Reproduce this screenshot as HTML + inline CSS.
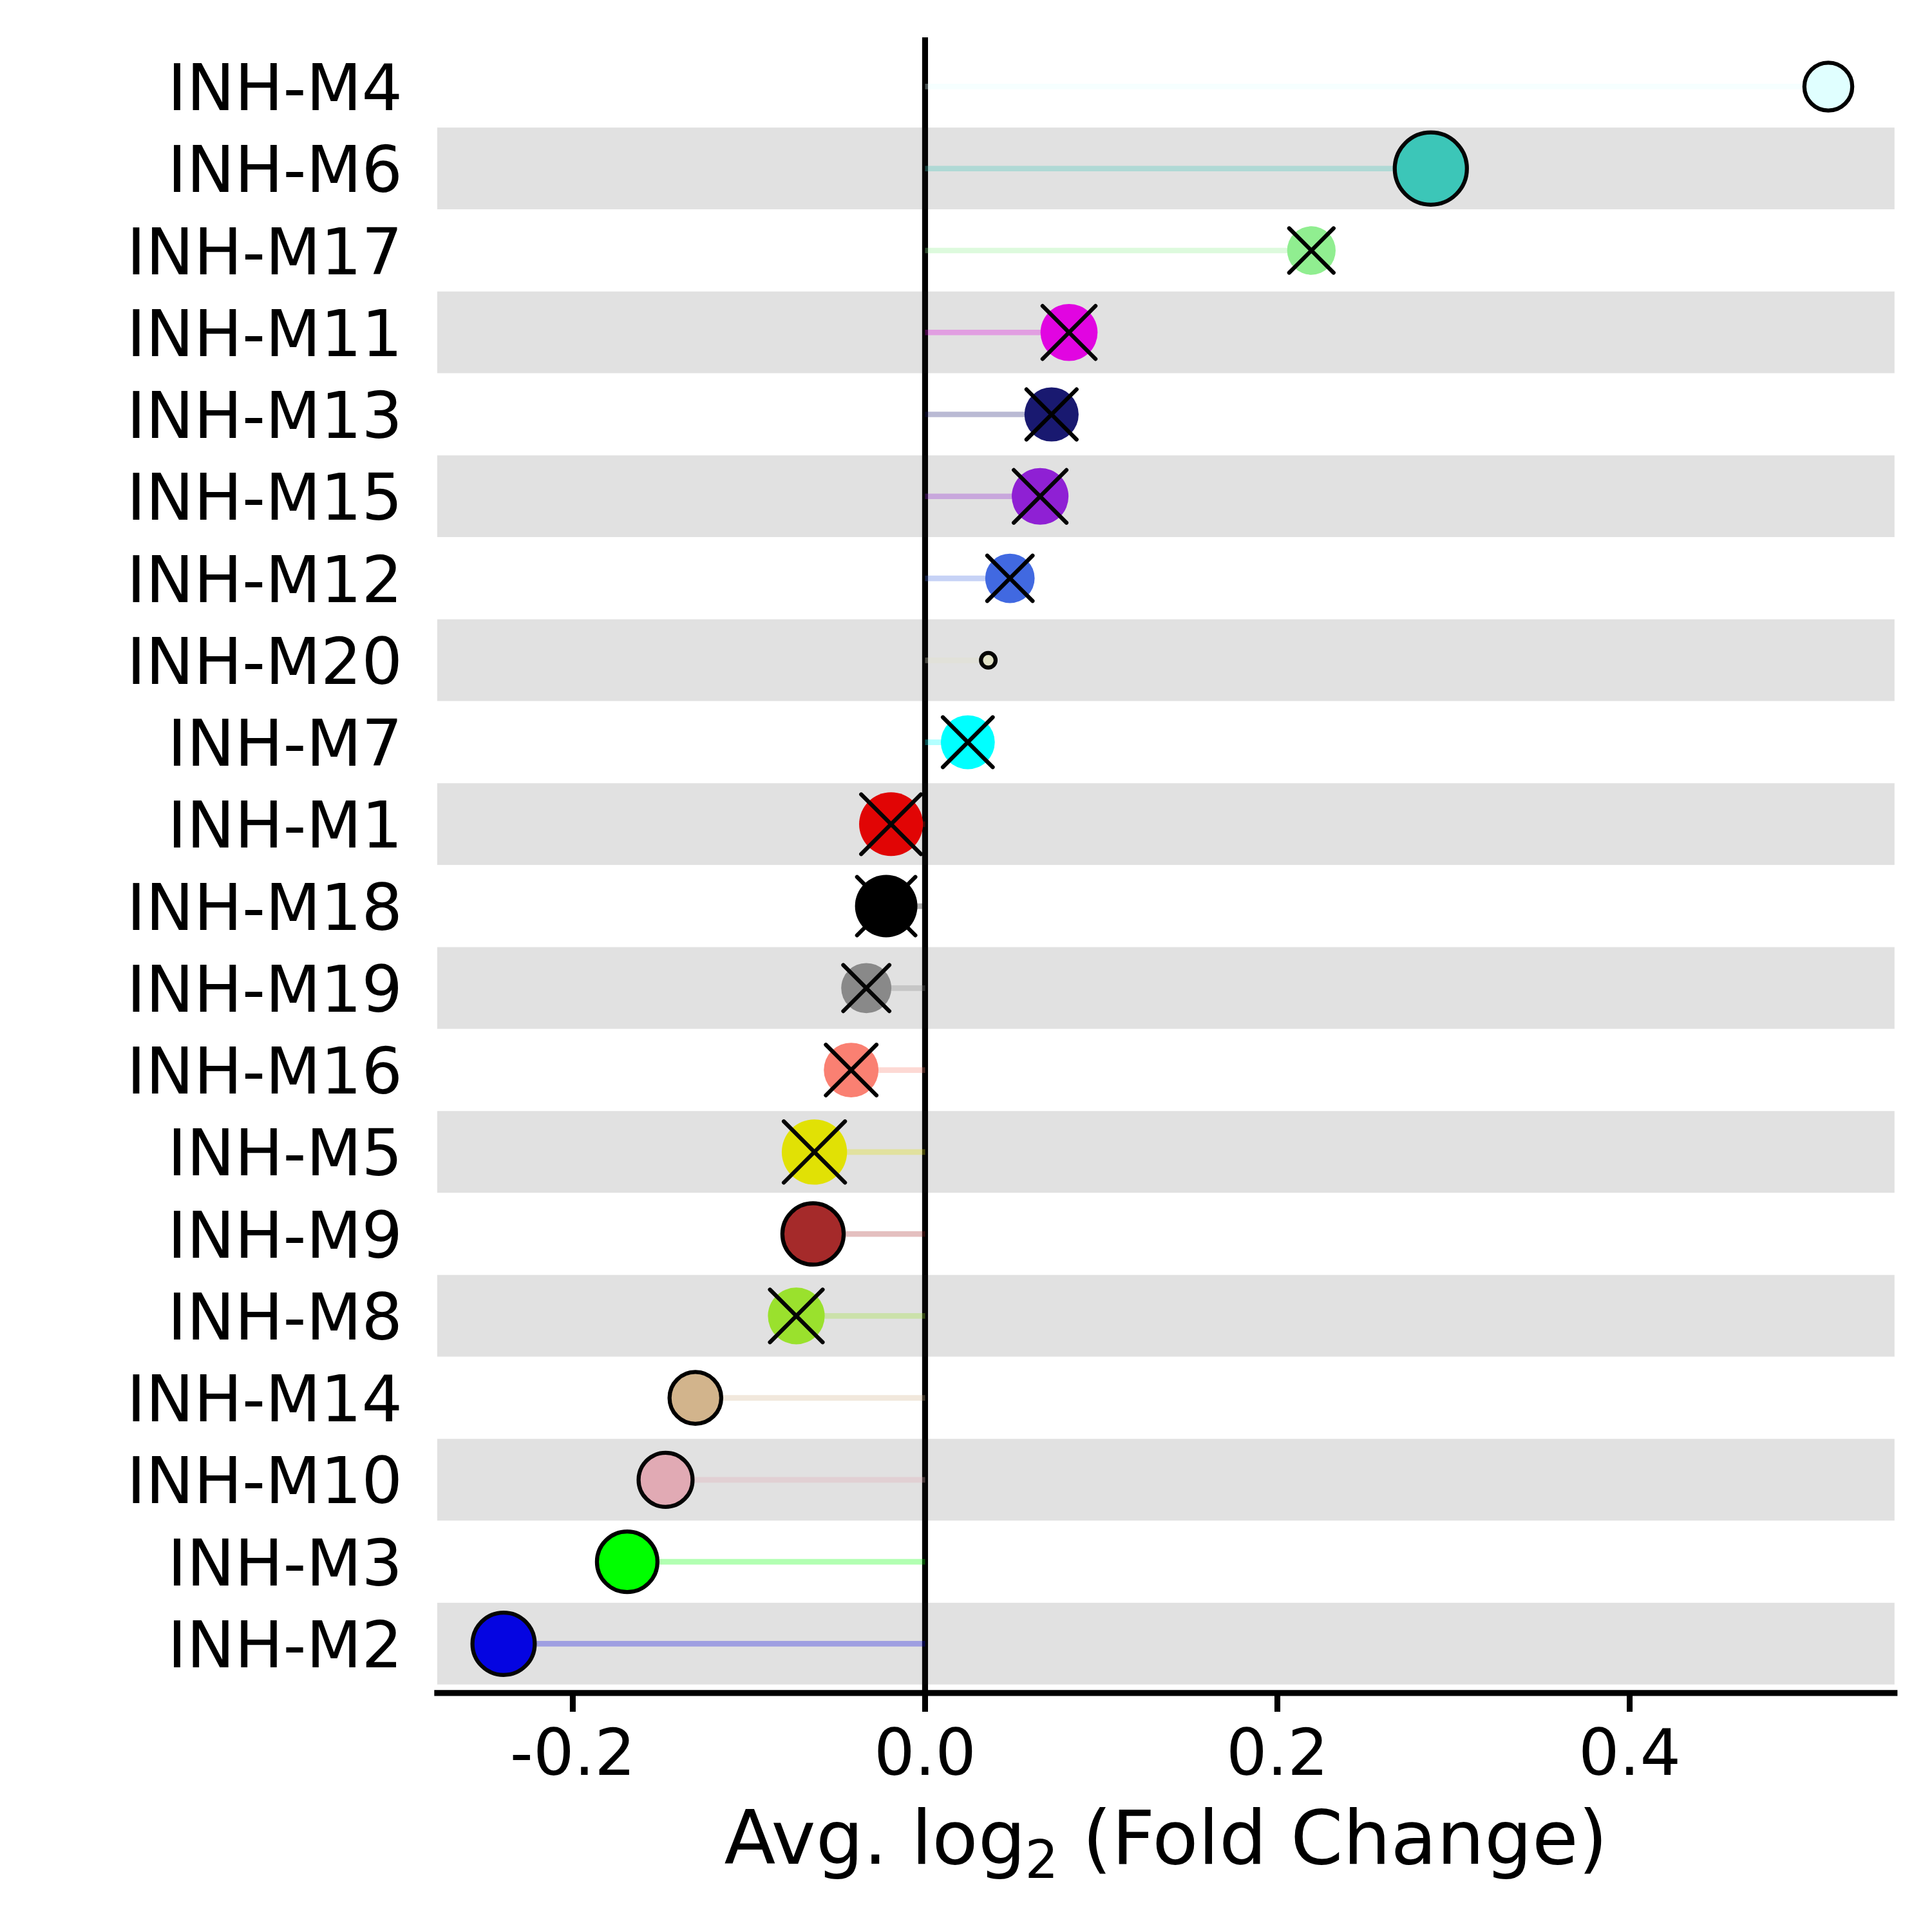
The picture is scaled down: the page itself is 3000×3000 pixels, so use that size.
<!DOCTYPE html>
<html lang="en">
<head>
<meta charset="utf-8">
<title>Avg. log2 (Fold Change) by module</title>
<style>
html,body{margin:0;padding:0;background:#fff;}
body{width:3000px;height:3000px;overflow:hidden;}
svg{display:block;}
text{font-family:"DejaVu Sans","Liberation Sans",sans-serif;fill:#000;}
.yl{font-size:99.8px;text-anchor:end;}
.xl{font-size:100px;text-anchor:middle;}
.ttl{font-size:116.7px;}
.sub{font-size:81.7px;}
</style>
</head>
<body>
<svg width="3000" height="3000" viewBox="0 0 3000 3000">
<rect x="0" y="0" width="3000" height="3000" fill="#ffffff"/>
<line x1="1436.45" y1="57.9" x2="1436.45" y2="2628.8" stroke="#000" stroke-width="9.15"/>
<g stroke-width="8.7" stroke-opacity="0.3" fill="none">
<line x1="1436.45" y1="134.47" x2="2839" y2="134.47" stroke="#E0FFFF"/>
<line x1="1436.45" y1="261.73" x2="2221.8" y2="261.73" stroke="#40E0D0"/>
<line x1="1436.45" y1="388.99" x2="2036.3" y2="388.99" stroke="#90EE90"/>
<line x1="1436.45" y1="516.25" x2="1660" y2="516.25" stroke="#FF00FF"/>
<line x1="1436.45" y1="643.51" x2="1632.8" y2="643.51" stroke="#191970"/>
<line x1="1436.45" y1="770.77" x2="1615.1" y2="770.77" stroke="#A020F0"/>
<line x1="1436.45" y1="898.03" x2="1568.2" y2="898.03" stroke="#4169E1"/>
<line x1="1436.45" y1="1025.29" x2="1534.6" y2="1025.29" stroke="#FFFFE0"/>
<line x1="1436.45" y1="1152.55" x2="1502.8" y2="1152.55" stroke="#00FFFF"/>
<line x1="1436.45" y1="1279.81" x2="1383.6" y2="1279.81" stroke="#FF0000"/>
<line x1="1436.45" y1="1407.07" x2="1376.1" y2="1407.07" stroke="#000000"/>
<line x1="1436.45" y1="1534.33" x2="1345.2" y2="1534.33" stroke="#999999"/>
<line x1="1436.45" y1="1661.59" x2="1321.7" y2="1661.59" stroke="#FA8072"/>
<line x1="1436.45" y1="1788.85" x2="1264.6" y2="1788.85" stroke="#FFFF00"/>
<line x1="1436.45" y1="1916.11" x2="1262.5" y2="1916.11" stroke="#A52A2A"/>
<line x1="1436.45" y1="2043.37" x2="1236.5" y2="2043.37" stroke="#ADFF2F"/>
<line x1="1436.45" y1="2170.63" x2="1079.8" y2="2170.63" stroke="#D2B48C"/>
<line x1="1436.45" y1="2297.89" x2="1033.5" y2="2297.89" stroke="#FFC0CB"/>
<line x1="1436.45" y1="2425.15" x2="973.9" y2="2425.15" stroke="#00FF00"/>
<line x1="1436.45" y1="2552.41" x2="782" y2="2552.41" stroke="#0000FF"/>
</g>
<g>
<circle cx="2839" cy="134.47" r="37.17" fill="#E0FFFF" stroke="#000" stroke-width="6.25"/>
<circle cx="2221.8" cy="261.73" r="56.02" fill="#40E0D0" stroke="#000" stroke-width="6.25"/>
<circle cx="2036.3" cy="388.99" r="37.65" fill="#90EE90"/>
<circle cx="1660" cy="516.25" r="44.3" fill="#FF00FF"/>
<circle cx="1632.8" cy="643.51" r="42.1" fill="#191970"/>
<circle cx="1615.1" cy="770.77" r="44.1" fill="#A020F0"/>
<circle cx="1568.2" cy="898.03" r="38.4" fill="#4169E1"/>
<circle cx="1534.6" cy="1025.29" r="11.38" fill="#FFFFE0" stroke="#000" stroke-width="6.25"/>
<circle cx="1502.8" cy="1152.55" r="41.9" fill="#00FFFF"/>
<circle cx="1383.6" cy="1279.81" r="49.55" fill="#FF0000"/>
<circle cx="1376.1" cy="1407.07" r="48.45" fill="#000000"/>
<circle cx="1345.2" cy="1534.33" r="38.95" fill="#999999"/>
<circle cx="1321.7" cy="1661.59" r="42.45" fill="#FA8072"/>
<circle cx="1264.6" cy="1788.85" r="50.7" fill="#FFFF00"/>
<circle cx="1262.5" cy="1916.11" r="47.62" fill="#A52A2A" stroke="#000" stroke-width="6.25"/>
<circle cx="1236.5" cy="2043.37" r="44.1" fill="#ADFF2F"/>
<circle cx="1079.8" cy="2170.63" r="40.17" fill="#D2B48C" stroke="#000" stroke-width="6.25"/>
<circle cx="1033.5" cy="2297.89" r="41.92" fill="#FFC0CB" stroke="#000" stroke-width="6.25"/>
<circle cx="973.9" cy="2425.15" r="46.98" fill="#00FF00" stroke="#000" stroke-width="6.25"/>
<circle cx="782" cy="2552.41" r="48.38" fill="#0000FF" stroke="#000" stroke-width="6.25"/>
</g>
<g stroke="#000" stroke-width="6.25" stroke-linecap="round" fill="none">
<path d="M2001.83 354.51L2070.78 423.47M2001.83 423.47L2070.78 354.51"/>
<path d="M1618.88 475.12L1701.12 557.38M1618.88 557.38L1701.12 475.12"/>
<path d="M1593.88 604.59L1671.72 682.43M1593.88 682.43L1671.72 604.59"/>
<path d="M1574.17 729.85L1656.02 811.7M1574.17 811.7L1656.02 729.85"/>
<path d="M1532.98 862.81L1603.42 933.26M1532.98 933.26L1603.42 862.81"/>
<path d="M1464.08 1113.83L1541.52 1191.27M1464.08 1191.27L1541.52 1113.83"/>
<path d="M1337.22 1233.44L1429.97 1326.19M1337.22 1326.19L1429.97 1233.44"/>
<path d="M1330.82 1361.8L1421.38 1452.35M1330.82 1452.35L1421.38 1361.8"/>
<path d="M1309.42 1498.56L1380.98 1570.11M1309.42 1570.11L1380.98 1498.56"/>
<path d="M1282.42 1622.32L1360.98 1700.87M1282.42 1700.87L1360.98 1622.32"/>
<path d="M1217.07 1741.33L1312.12 1836.38M1217.07 1836.38L1312.12 1741.33"/>
<path d="M1195.58 2002.45L1277.42 2084.3M1195.58 2084.3L1277.42 2002.45"/>
</g>
<g fill="#242424" fill-opacity="0.137">
<rect x="678.9" y="198.08" width="2262.9" height="126.9"/>
<rect x="678.9" y="452.6" width="2262.9" height="126.9"/>
<rect x="678.9" y="707.12" width="2262.9" height="126.9"/>
<rect x="678.9" y="961.64" width="2262.9" height="126.9"/>
<rect x="678.9" y="1216.16" width="2262.9" height="126.9"/>
<rect x="678.9" y="1470.68" width="2262.9" height="126.9"/>
<rect x="678.9" y="1725.2" width="2262.9" height="126.9"/>
<rect x="678.9" y="1979.72" width="2262.9" height="126.9"/>
<rect x="678.9" y="2234.24" width="2262.9" height="126.9"/>
<rect x="678.9" y="2488.76" width="2262.9" height="126.9"/>
</g>
<line x1="678.9" y1="2628.8" x2="2941.8" y2="2628.8" stroke="#000" stroke-width="9.15" stroke-linecap="square"/>
<g stroke="#000" stroke-width="9.1">
<line x1="889.41" y1="2628.8" x2="889.41" y2="2658"/>
<line x1="1436.45" y1="2628.8" x2="1436.45" y2="2658"/>
<line x1="1983.49" y1="2628.8" x2="1983.49" y2="2658"/>
<line x1="2530.53" y1="2628.8" x2="2530.53" y2="2658"/>
</g>
<text class="xl" x="889.41" y="2755.8">-0.2</text>
<text class="xl" x="1436.45" y="2755.8">0.0</text>
<text class="xl" x="1983.49" y="2755.8">0.2</text>
<text class="xl" x="2530.53" y="2755.8">0.4</text>
<text class="yl" x="625.1" y="171.07">INH-M4</text>
<text class="yl" x="625.1" y="298.33">INH-M6</text>
<text class="yl" x="625.1" y="425.59">INH-M17</text>
<text class="yl" x="625.1" y="552.85">INH-M11</text>
<text class="yl" x="625.1" y="680.11">INH-M13</text>
<text class="yl" x="625.1" y="807.37">INH-M15</text>
<text class="yl" x="625.1" y="934.63">INH-M12</text>
<text class="yl" x="625.1" y="1061.89">INH-M20</text>
<text class="yl" x="625.1" y="1189.15">INH-M7</text>
<text class="yl" x="625.1" y="1316.41">INH-M1</text>
<text class="yl" x="625.1" y="1443.67">INH-M18</text>
<text class="yl" x="625.1" y="1570.93">INH-M19</text>
<text class="yl" x="625.1" y="1698.19">INH-M16</text>
<text class="yl" x="625.1" y="1825.45">INH-M5</text>
<text class="yl" x="625.1" y="1952.71">INH-M9</text>
<text class="yl" x="625.1" y="2079.97">INH-M8</text>
<text class="yl" x="625.1" y="2207.23">INH-M14</text>
<text class="yl" x="625.1" y="2334.49">INH-M10</text>
<text class="yl" x="625.1" y="2461.75">INH-M3</text>
<text class="yl" x="625.1" y="2589.01">INH-M2</text>
<text class="ttl" x="1124.6" y="2893.9">Avg. log<tspan class="sub" dx="-1.2" dy="22.2">2</tspan><tspan dy="-22.2"> (Fold Change)</tspan></text>
</svg>
</body>
</html>
